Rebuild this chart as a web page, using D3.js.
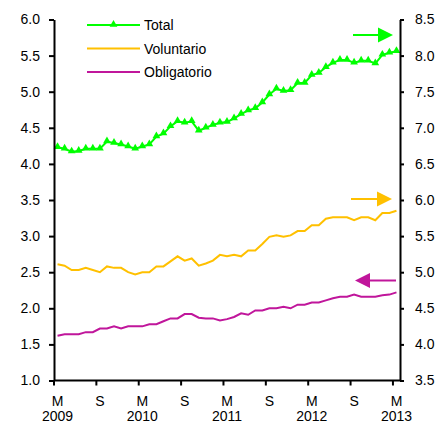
<!DOCTYPE html>
<html>
<head>
<meta charset="utf-8">
<script src="https://cdn.jsdelivr.net/npm/d3@7"></script>
<style>
  html, body { margin: 0; padding: 0; background: #fff; }
  svg { display: block; }
  text { font-family: "Liberation Sans", Arial, sans-serif; fill: #000; }
</style>
</head>
<body>
<svg id="chart" width="441" height="424"></svg>
<script>
// Monthly series, March 2009 to March 2013 (49 months)
const months = d3.range(49);

// Total (right axis)
const total = [
  6.73, 6.71, 6.67, 6.68, 6.71, 6.71, 6.71, 6.81, 6.79, 6.77,
  6.74, 6.71, 6.74, 6.77, 6.88, 6.92, 7.02, 7.09, 7.07, 7.09,
  6.96, 7.00, 7.04, 7.07, 7.08, 7.13, 7.19, 7.24, 7.27, 7.35,
  7.46, 7.54, 7.51, 7.52, 7.62, 7.62, 7.73, 7.76, 7.84, 7.90,
  7.94, 7.94, 7.90, 7.93, 7.93, 7.89, 8.01, 8.04, 8.06
];

// Voluntario (right axis)
const voluntario = [
  5.11, 5.09, 5.03, 5.03, 5.06, 5.03, 5.00, 5.08, 5.06, 5.06,
  5.00, 4.97, 5.00, 5.00, 5.08, 5.08, 5.15, 5.22, 5.16, 5.19,
  5.09, 5.12, 5.16, 5.24, 5.22, 5.24, 5.22, 5.30, 5.30, 5.39,
  5.49, 5.51, 5.49, 5.51, 5.57, 5.57, 5.65, 5.65, 5.74, 5.76,
  5.76, 5.76, 5.72, 5.76, 5.76, 5.72, 5.82, 5.82, 5.85
];

// Obligatorio (left axis)
const obligatorio = [
  1.62, 1.64, 1.64, 1.64, 1.67, 1.67, 1.72, 1.72, 1.75, 1.72,
  1.75, 1.75, 1.75, 1.78, 1.78, 1.82, 1.86, 1.86, 1.92, 1.92,
  1.87, 1.86, 1.86, 1.83, 1.85, 1.88, 1.93, 1.91, 1.97, 1.97,
  2.00, 2.00, 2.02, 2.00, 2.05, 2.05, 2.08, 2.08, 2.11, 2.14,
  2.16, 2.16, 2.19, 2.16, 2.16, 2.16, 2.18, 2.19, 2.22
];

// Category axis labels every six months
const tickIndex = [0, 6, 12, 18, 24, 30, 36, 42, 48];
const monthLabels = ["M", "S", "M", "S", "M", "S", "M", "S", "M"];
const yearLabels = ["2009", "", "2010", "", "2011", "", "2012", "", "2013"];

const leftTicks = [1.0, 1.5, 2.0, 2.5, 3.0, 3.5, 4.0, 4.5, 5.0, 5.5, 6.0];
const rightTicks = [3.5, 4.0, 4.5, 5.0, 5.5, 6.0, 6.5, 7.0, 7.5, 8.0, 8.5];

const seriesNames = ["Total", "Voluntario", "Obligatorio"];
const colors = { total: "#00ff00", vol: "#ffc000", obl: "#c0169b" };

const svg = d3.select("#chart");

const plotLeft = 54, plotRight = 400, plotTop = 19.5, plotBottom = 380.5;

const x = d3.scaleBand().domain(months).range([plotLeft, plotRight]).padding(0);
const cx = i => x(i) + x.bandwidth() / 2;
const yL = d3.scaleLinear().domain([1, 6]).range([plotBottom, plotTop]);
const yR = d3.scaleLinear().domain([3.5, 8.5]).range([plotBottom, plotTop]);

// Series lines
const lineFor = (scale) => d3.line().x((d, i) => cx(i)).y(d => scale(d));

svg.append("path").datum(obligatorio)
  .attr("d", lineFor(yL))
  .attr("fill", "none").attr("stroke", colors.obl).attr("stroke-width", 2);

svg.append("path").datum(voluntario)
  .attr("d", lineFor(yR))
  .attr("fill", "none").attr("stroke", colors.vol).attr("stroke-width", 2);

svg.append("path").datum(total)
  .attr("d", lineFor(yR))
  .attr("fill", "none").attr("stroke", colors.total).attr("stroke-width", 2);

const tri = d3.symbol().type(d3.symbolTriangle).size(26);
svg.append("g").selectAll("path").data(total).join("path")
  .attr("d", tri)
  .attr("transform", (d, i) => `translate(${cx(i)},${yR(d) - 0.5})`)
  .attr("fill", colors.total);

// Axes
const axisStyle = g => {
  g.selectAll(".domain").attr("stroke", "#000").attr("stroke-width", 2);
  g.selectAll(".tick line").attr("stroke", "#000").attr("stroke-width", 2);
  g.selectAll(".tick text").attr("font-size", 14)
    .attr("font-family", "'Liberation Sans', Arial, sans-serif");
};

svg.append("g")
  .attr("transform", `translate(${plotLeft},0)`)
  .call(d3.axisLeft(yL).tickValues(leftTicks).tickFormat(d3.format(".1f"))
        .tickSize(5).tickSizeOuter(0).tickPadding(9))
  .call(axisStyle);

svg.append("g")
  .attr("transform", `translate(${plotRight},0)`)
  .call(d3.axisRight(yR).tickValues(rightTicks).tickFormat(d3.format(".1f"))
        .tickSize(4).tickSizeOuter(0).tickPadding(11))
  .call(axisStyle);

// Category axis: ticks on category boundaries, labels centred on categories
const xg = svg.append("g");
xg.append("line")
  .attr("x1", plotLeft).attr("x2", plotRight)
  .attr("y1", plotBottom).attr("y2", plotBottom)
  .attr("stroke", "#000").attr("stroke-width", 2);
xg.selectAll("line.tk").data(tickIndex).join("line")
  .attr("class", "tk")
  .attr("x1", i => x(i)).attr("x2", i => x(i))
  .attr("y1", plotBottom).attr("y2", plotBottom + 5)
  .attr("stroke", "#000").attr("stroke-width", 2);
xg.selectAll("text.m").data(tickIndex).join("text")
  .attr("class", "m")
  .attr("x", i => cx(i)).attr("y", 406)
  .attr("text-anchor", "middle").attr("font-size", 14)
  .text((d, k) => monthLabels[k]);
xg.selectAll("text.yr").data(tickIndex).join("text")
  .attr("class", "yr")
  .attr("x", i => cx(i)).attr("y", 421)
  .attr("text-anchor", "middle").attr("font-size", 14)
  .text((d, k) => yearLabels[k]);

// Legend
const legend = svg.append("g");
const legendKeys = [colors.total, colors.vol, colors.obl];
const legendY = [25, 48.5, 72];
legendKeys.forEach((c, k) => {
  legend.append("line")
    .attr("x1", 87).attr("x2", 140)
    .attr("y1", legendY[k]).attr("y2", legendY[k])
    .attr("stroke", c).attr("stroke-width", 2);
  legend.append("text")
    .attr("x", 144).attr("y", legendY[k] + 5)
    .attr("font-size", 14)
    .text(seriesNames[k]);
});
legend.append("path")
  .attr("d", tri)
  .attr("transform", `translate(113.5,${legendY[0] - 0.5})`)
  .attr("fill", colors.total);

// Arrows showing which axis each series is read against
const arrow = (x1, x2, y, color) => {
  const dir = Math.sign(x2 - x1);
  const headLen = 15, headHalf = 7.5;
  const g = svg.append("g");
  g.append("line")
    .attr("x1", x1).attr("x2", x2 - dir * headLen)
    .attr("y1", y).attr("y2", y)
    .attr("stroke", color).attr("stroke-width", 2);
  g.append("path")
    .attr("d", `M${x2},${y} L${x2 - dir * headLen},${y - headHalf} L${x2 - dir * headLen},${y + headHalf} Z`)
    .attr("fill", color);
};
arrow(353, 393, 35, colors.total);
arrow(351, 392, 199, colors.vol);
arrow(396, 355, 280.5, colors.obl);
</script>
</body>
</html>
